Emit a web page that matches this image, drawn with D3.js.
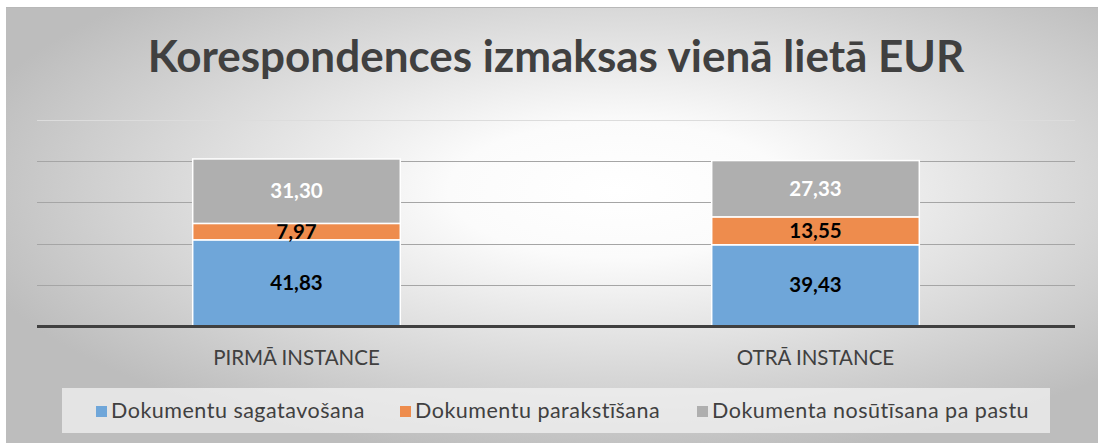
<!DOCTYPE html>
<html lang="lv">
<head>
<meta charset="utf-8">
<script src="https://cdn.jsdelivr.net/npm/d3@7"></script>
<style type="text/css">
body {
	margin: 0;
	background: #fff;
	font-family: Lato, "Open Sans", sans-serif;
}
.grid line {
	stroke: #a5a5a5;
	stroke-width: 1;
}
.cat {
	font-size: 20.5px;
	fill: #404040;
}
.lbl {
	font-size: 20.5px;
	font-weight: bold;
}
.leg text {
	font-size: 21.5px;
	letter-spacing: 0.5px;
	fill: #404040;
}
</style>
</head>
<body>
<script type="text/javascript">

// chart data
var categories = ["PIRMĀ INSTANCE", "OTRĀ INSTANCE"];
var seriesNames = ["Dokumentu sagatavošana", "Dokumentu parakstīšana", "Dokumenta nosūtīsana pa pastu"];
var sagatavosana = [41.83, 39.43];
var parakstisana = [7.97, 13.55];
var nosutisana = [31.30, 27.33];
var gridTicks = [20, 40, 60, 80, 100];
var title = "Korespondences izmaksas vienā lietā EUR";

var colors = ["#6fa6d9", "#ee8c4d", "#afafaf"];
var labelColors = ["#000", "#000", "#fff"];

var width = 1098, height = 443;

var svg = d3.select("body").append("svg")
	.attr("width", width)
	.attr("height", height);

// radial background like the office chart area
var defs = svg.append("defs");
var grad = defs.append("radialGradient")
	.attr("id", "bg")
	.attr("cx", "0.56").attr("cy", "0.42")
	.attr("r", "0.62");
grad.append("stop").attr("offset", "0").attr("stop-color", "#ffffff");
grad.append("stop").attr("offset", "0.25").attr("stop-color", "#fbfbfb");
grad.append("stop").attr("offset", "1").attr("stop-color", "#bdbdbd");

svg.append("rect")
	.attr("x", 6).attr("y", 7)
	.attr("width", width - 6).attr("height", height - 7)
	.attr("fill", "url(#bg)");
svg.append("line")
	.attr("x1", 6).attr("x2", width)
	.attr("y1", 7.5).attr("y2", 7.5)
	.attr("stroke", "#b8b8b8");

// title
svg.append("text")
	.attr("x", 556).attr("y", 72)
	.attr("text-anchor", "middle")
	.style("font-size", "44px")
	.style("font-weight", "bold")
	.style("fill", "#404040")
	.text(title);

// scales
var x = d3.scaleBand()
	.domain(categories)
	.range([37, 1075])
	.paddingInner(0.6)
	.paddingOuter(0.3);

var y = d3.scaleLinear()
	.domain([0, 100])
	.range([326, 120]);

// gridlines
var grid = svg.append("g").attr("class", "grid");
grid.selectAll("line")
	.data(gridTicks)
	.enter().append("line")
	.attr("x1", 37).attr("x2", 1075)
	.attr("y1", d => Math.round(y(d)) + 0.5)
	.attr("y2", d => Math.round(y(d)) + 0.5)
	.style("stroke", d => d == 100 ? "#dcdcdc" : null);

// stack it up
var rows = categories.map(function(c, i) {
	return { cat: c, s0: sagatavosana[i], s1: parakstisana[i], s2: nosutisana[i] };
});
var stack = d3.stack().keys(["s0", "s1", "s2"])(rows);

var layers = svg.selectAll("g.layer")
	.data(stack)
	.enter().append("g")
	.attr("class", "layer");

layers.selectAll("rect")
	.data((d, i) => d.map(p => ({ p: p, i: i })))
	.enter().append("rect")
	.attr("x", d => x(d.p.data.cat))
	.attr("width", x.bandwidth())
	.attr("y", d => y(d.p[1]))
	.attr("height", d => y(d.p[0]) - y(d.p[1]))
	.attr("fill", d => colors[d.i])
	.attr("stroke", "#fff")
	.attr("stroke-width", 1.5);

layers.selectAll("text")
	.data((d, i) => d.map(p => ({ p: p, i: i })))
	.enter().append("text")
	.attr("class", "lbl")
	.attr("x", d => x(d.p.data.cat) + x.bandwidth() / 2)
	.attr("y", d => (y(d.p[0]) + y(d.p[1])) / 2 + 7)
	.attr("text-anchor", "middle")
	.style("fill", d => labelColors[d.i])
	.text(d => (d.p[1] - d.p[0]).toFixed(2).replace(".", ","));

// axis baseline
svg.append("line")
	.attr("x1", 37).attr("x2", 1075)
	.attr("y1", 326.5).attr("y2", 326.5)
	.attr("stroke", "#404040")
	.attr("stroke-width", 3);

// category labels
svg.selectAll("text.cat")
	.data(categories)
	.enter().append("text")
	.attr("class", "cat")
	.attr("x", d => x(d) + x.bandwidth() / 2)
	.attr("y", 365)
	.attr("text-anchor", "middle")
	.text(d => d);

// legend
var legend = svg.append("g").attr("class", "leg");
legend.append("rect")
	.attr("x", 62).attr("y", 388)
	.attr("width", 988).attr("height", 45)
	.attr("fill", "#f2f2f2")
	.attr("fill-opacity", 0.75);

var legX = [96, 400, 697];
var item = legend.selectAll("g.item")
	.data(seriesNames)
	.enter().append("g")
	.attr("class", "item")
	.attr("transform", (d, i) => "translate(" + legX[i] + ",0)");
item.append("rect")
	.attr("x", 0).attr("y", 406)
	.attr("width", 11).attr("height", 11)
	.attr("fill", (d, i) => colors[i]);
item.append("text")
	.attr("x", 15).attr("y", 418)
	.text(d => d);

</script>
</body>
</html>
